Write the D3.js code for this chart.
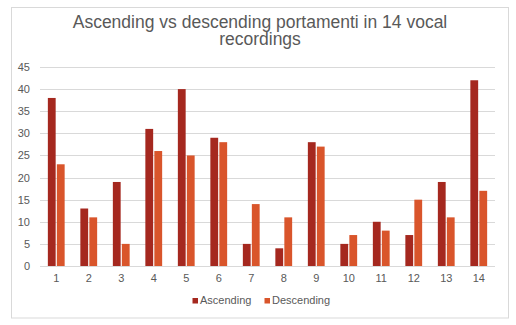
<!DOCTYPE html>
<html>
<head>
<meta charset="utf-8">
<script src="https://cdn.jsdelivr.net/npm/d3@7"></script>
<style>
  html, body { margin: 0; padding: 0; background: #fff; }
  svg { display: block; font-family: "Liberation Sans", Arial, sans-serif; }
</style>
</head>
<body>
<svg id="chart" width="516" height="325"></svg>
<script>
// Recording numbers on the x axis
const categories = ["1","2","3","4","5","6","7","8","9","10","11","12","13","14"];
// Counts of portamenti per recording
const ascending  = [38, 13, 19, 31, 40, 29, 5, 4, 28, 5, 10, 7, 19, 42];
const descending = [23, 11, 5, 26, 25, 28, 14, 11, 27, 7, 8, 15, 11, 17];
const seriesNames = ["Ascending", "Descending"];
const yTicks = [0, 5, 10, 15, 20, 25, 30, 35, 40, 45];
const titleLines = ["Ascending vs descending portamenti in 14 vocal", "recordings"];

const colors = { Ascending: "#A5281F", Descending: "#D9552B" };
const textColor = "#595959";
const gridColor = "#D9D9D9";

const svg = d3.select("#chart");

// outer frame
svg.append("rect")
  .attr("x", 11.5).attr("y", 7.5)
  .attr("width", 497).attr("height", 310.5)
  .attr("fill", "#fff").attr("stroke", gridColor).attr("stroke-width", 1);

// title, two lines
const title = svg.append("text")
  .attr("text-anchor", "middle")
  .attr("fill", textColor)
  .style("font-size", "17.5px");
titleLines.forEach((line, i) => {
  title.append("tspan").attr("x", 260).attr("y", 28.3 + i * 17).text(line);
});

const plot = { left: 40, right: 495, top: 67, bottom: 266 };

const x = d3.scaleBand().domain(categories).range([plot.left, plot.right]);
const y = d3.scaleLinear().domain([0, 45]).range([plot.bottom, plot.top]);

// horizontal gridlines
svg.append("g")
  .selectAll("line")
  .data(yTicks)
  .join("line")
  .attr("x1", plot.left).attr("x2", plot.right)
  .attr("y1", d => Math.round(y(d)) + 0.5).attr("y2", d => Math.round(y(d)) + 0.5)
  .attr("stroke", gridColor).attr("stroke-width", 1);

// y axis labels
const yAxis = d3.axisLeft(y).tickValues(yTicks).tickSize(0).tickPadding(10);
const yg = svg.append("g").attr("transform", `translate(${plot.left},0)`).call(yAxis);
yg.select(".domain").remove();
yg.selectAll("text").attr("fill", textColor).style("font-size", "11px")
  .style("font-family", "'Liberation Sans', Arial, sans-serif");

// x axis labels
const xAxis = d3.axisBottom(x).tickSize(0).tickPadding(8);
const xg = svg.append("g").attr("transform", `translate(0,${plot.bottom})`).call(xAxis);
xg.select(".domain").remove();
xg.selectAll("text").attr("fill", textColor).style("font-size", "11px")
  .style("font-family", "'Liberation Sans', Arial, sans-serif");

// bars: two series side by side within each recording's band
const barW = 7.3, gap = 2.2;
const rows = categories.map((c, i) => ({ c, Ascending: ascending[i], Descending: descending[i] }));
const inner = d3.scaleBand().domain(seriesNames)
  .range([-(barW + gap / 2), barW + gap / 2]).paddingInner(gap / (2 * barW + gap));

seriesNames.forEach(s => {
  svg.append("g").selectAll("rect")
    .data(rows)
    .join("rect")
    .attr("x", d => x(d.c) + x.bandwidth() / 2 + inner(s))
    .attr("width", inner.bandwidth())
    .attr("y", d => y(d[s]))
    .attr("height", d => y(0) - y(d[s]))
    .attr("fill", colors[s]);
});

// legend
const legendItems = [{ name: "Ascending", x: 192.5 }, { name: "Descending", x: 264.5 }];
const lg = svg.append("g");
legendItems.forEach(it => {
  lg.append("rect").attr("x", it.x).attr("y", 298).attr("width", 5.5).attr("height", 5.5)
    .attr("fill", colors[it.name]);
  lg.append("text").attr("x", it.x + 7.5).attr("y", 304)
    .attr("fill", textColor).style("font-size", "11px").text(it.name);
});
</script>
</body>
</html>
